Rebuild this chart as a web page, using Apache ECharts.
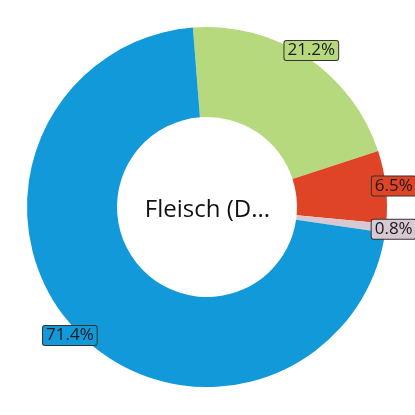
<!DOCTYPE html>
<html>
<head>
<meta charset="utf-8">
<script src="https://cdn.jsdelivr.net/npm/echarts@6/dist/echarts.min.js"></script>
<style>
  html, body { margin: 0; padding: 0; background: #fff; }
  #chart { width: 415px; height: 415px; }
</style>
</head>
<body>
<div id="chart"></div>
<script>
// slice data, clockwise from the top
const names = ['Eiweiß', 'Kohlenhydrate', 'Ballaststoffe', 'Fett']
const values = [21.2, 6.5, 0.8, 71.4]
const colors = ['#b6d97e', '#e04426', '#d8c8d4', '#1299d9']
const centerText = 'Fleisch (D...'

const cx = 207
const cy = 207
const startAngle = 94.5
const labelRadius = 188

const total = values.reduce((a, b) => a + b, 0)

// mid angle of each slice, used to centre the label on the ring edge
function midAngle(idx) {
  let before = 0
  for (let i = 0; i < idx; i++) before += values[i]
  return startAngle - (before + values[idx] / 2) / total * 360
}

const myChart = echarts.init(document.getElementById('chart'))

const option = {
  animation: false,
  title: {
    text: centerText,
    left: 'center',
    top: 193,
    textStyle: {
      fontFamily: 'Open Sans',
      fontSize: 24,
      fontWeight: 'normal',
      color: '#111'
    }
  },
  series: [
    {
      type: 'pie',
      center: [cx, cy],
      radius: [90, 180],
      startAngle: startAngle,
      clockwise: true,
      avoidLabelOverlap: false,
      data: values.map((v, i) => ({
        name: names[i],
        value: v,
        itemStyle: { color: colors[i] },
        label: { backgroundColor: colors[i] }
      })),
      label: {
        show: true,
        position: 'outside',
        formatter: (p) => p.value.toFixed(1) + '%',
        fontFamily: 'Open Sans',
        fontSize: 17,
        color: '#1a1a1a',
        borderColor: '#333',
        borderWidth: 1,
        borderRadius: 2,
        padding: [2, 3, 0, 3]
      },
      labelLine: { show: false },
      labelLayout: (params) => {
        const a = midAngle(params.dataIndex) * Math.PI / 180
        return {
          x: cx + labelRadius * Math.cos(a),
          y: cy - labelRadius * Math.sin(a),
          align: 'center',
          verticalAlign: 'middle'
        }
      }
    }
  ]
}

myChart.setOption(option)
</script>
</body>
</html>
